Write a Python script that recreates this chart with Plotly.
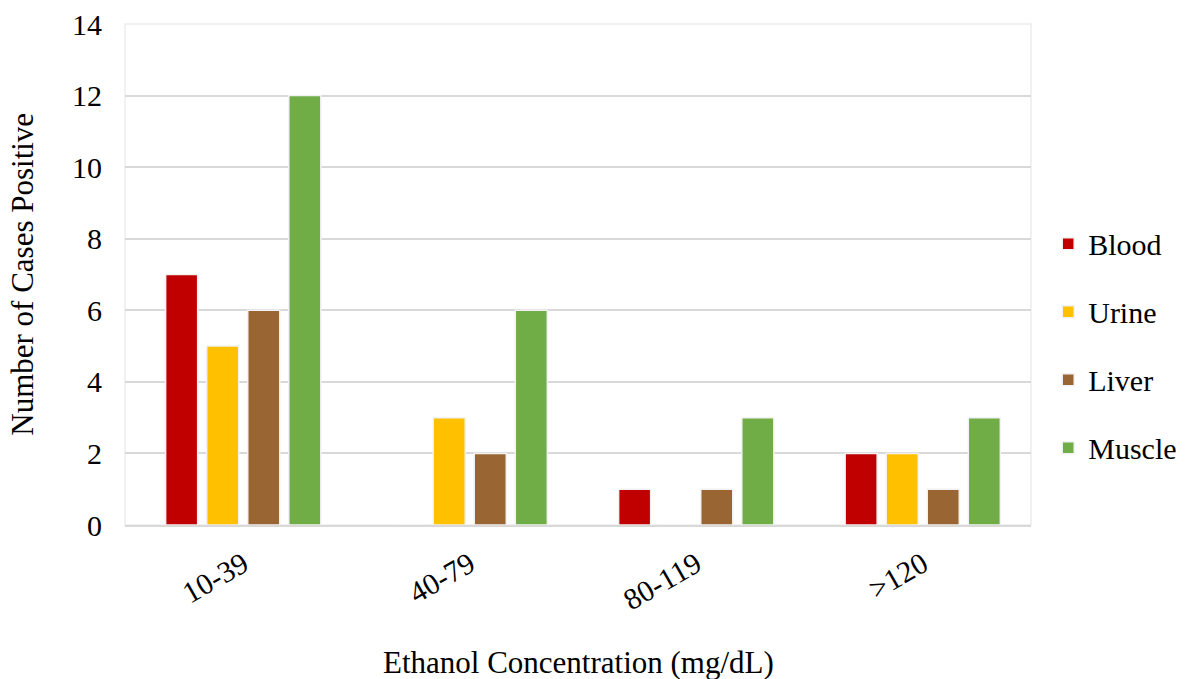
import plotly.graph_objects as go

categories = ["10-39", "40-79", "80-119", ">120"]
blood = [7, 0, 1, 2]
urine = [5, 3, 0, 2]
liver = [6, 2, 1, 1]
muscle = [12, 6, 3, 3]

series = [
    ("Blood", blood, "#C00000"),
    ("Urine", urine, "#FFC000"),
    ("Liver", liver, "#996633"),
    ("Muscle", muscle, "#70AD47"),
]

font_family = "Liberation Serif, Times New Roman, serif"

fig = go.Figure()
for name, vals, color in series:
    fig.add_trace(go.Bar(
        x=categories, y=vals, name=name, legendgroup=name,
        marker=dict(color=color, line=dict(color="#F2F2F2", width=1.5)),
    ))

fig.update_layout(
    width=1194, height=679,
    margin=dict(l=125, r=161, t=24, b=154),
    paper_bgcolor="white", plot_bgcolor="white",
    font=dict(family=font_family, size=30, color="black"),
    barmode="group", bargap=0.275, bargroupgap=0.22,
    legend=dict(x=1.019, y=0.358, xanchor="left", yanchor="middle",
                font=dict(size=30), tracegroupgap=26,
                itemwidth=30),
    xaxis=dict(
        tickangle=-30, showline=True, linecolor="#D9D9D9", linewidth=2,
        ticks="", tickfont=dict(size=30), ticklabelstandoff=8, automargin=False,
        range=[-0.522, 3.478],
    ),
    yaxis=dict(
        range=[0, 14], dtick=2, showgrid=True, gridcolor="#D9D9D9", gridwidth=1.5,
        zeroline=False, showline=False, ticks="", tickfont=dict(size=30),
        ticklabelstandoff=22, automargin=False,
    ),
    annotations=[
        dict(
            text="Number of Cases Positive", textangle=-90, showarrow=False,
            xref="paper", yref="paper", x=-0.1134, y=0.5,
            xanchor="center", yanchor="middle", font=dict(size=31),
        ),
        dict(
            text="Ethanol Concentration (mg/dL)", showarrow=False,
            xref="paper", yref="paper", x=0.5, y=-0.2735,
            xanchor="center", yanchor="middle", font=dict(size=31),
        ),
    ],
)

# Light frame around the plot area
fig.add_shape(type="rect", xref="paper", yref="paper", x0=0, y0=0, x1=1, y1=1,
              line=dict(color="#EDEDED", width=1.5), layer="below")

fig.write_html("out.html")
